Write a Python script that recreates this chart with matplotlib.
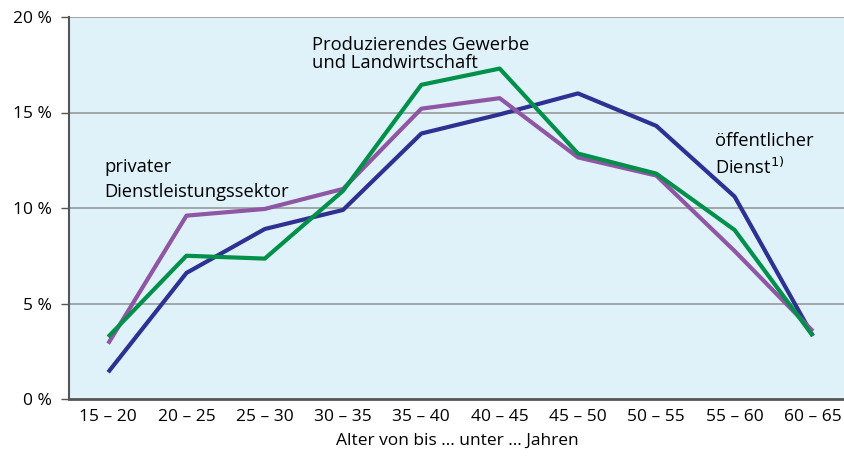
import matplotlib.pyplot as plt

alter = ['15 – 20', '20 – 25', '25 – 30', '30 – 35', '35 – 40',
         '40 – 45', '45 – 50', '50 – 55', '55 – 60', '60 – 65']

oeffentlich = [1.4, 6.6, 8.9, 9.9, 13.9, 14.9, 16.0, 14.3, 10.6, 3.3]
produzierend = [3.25, 7.5, 7.35, 10.9, 16.45, 17.3, 12.85, 11.8, 8.85, 3.3]
privat = [2.9, 9.6, 9.95, 11.0, 15.2, 15.75, 12.65, 11.7, 7.75, 3.55]

yticks = [0, 5, 10, 15, 20]
ylabels = ['0 %', '5 %', '10 %', '15 %', '20 %']

plt.rcParams['font.family'] = ['Open Sans', 'DejaVu Sans']
plt.rcParams['font.size'] = 12.5

dpi = 100
fig = plt.figure(figsize=(845 / dpi, 459 / dpi), dpi=dpi)
ax = fig.add_axes([69 / 845, 60 / 459, 1 - 69 / 845, 382 / 459])
ax.set_facecolor('#dff2fa')

xs = list(range(len(alter)))
ax.plot(xs, privat, color='#8f56a3', lw=3, solid_capstyle='butt', zorder=3)
ax.plot(xs, produzierend, color='#00904a', lw=3, solid_capstyle='butt', zorder=4)
ax.plot(xs, oeffentlich, color='#2e3192', lw=3, solid_capstyle='butt', zorder=2)

ax.set_xlim(-0.5, 9.41)
ax.set_ylim(0, 20)
ax.set_yticks(yticks)
ax.set_yticklabels(ylabels)
ax.set_xticks(xs)
ax.set_xticklabels(alter)
ax.tick_params(axis='x', length=0, pad=7)
ax.tick_params(axis='y', length=6, width=1, color='#555555', pad=6)
ax.set_xlabel('Alter von bis ... unter ... Jahren', labelpad=6)

for y in [5, 10, 15, 20]:
    ax.axhline(y, color='#9a9a9a', lw=1.2, zorder=1)

for s in ['top', 'right']:
    ax.spines[s].set_visible(False)
ax.spines['left'].set_color('#555555')
ax.spines['left'].set_linewidth(1.5)
ax.spines['bottom'].set_color('#555555')
ax.spines['bottom'].set_linewidth(2)

fs = 13.2
ax.text(-0.05, 12.15, 'privater', va='center', ha='left', fontsize=fs)
ax.text(-0.05, 10.85, 'Dienstleistungssektor', va='center', ha='left', fontsize=fs)
ax.text(2.6, 18.55, 'Produzierendes Gewerbe', va='center', ha='left', fontsize=fs)
ax.text(2.6, 17.6, 'und Landwirtschaft', va='center', ha='left', fontsize=fs)
ax.text(7.75, 13.5, 'öffentlicher', va='center', ha='left', fontsize=fs)
ax.text(7.75, 12.15, 'Dienst$^{1)}$', va='center', ha='left', fontsize=fs)

fig.savefig('out.png', dpi=dpi)
